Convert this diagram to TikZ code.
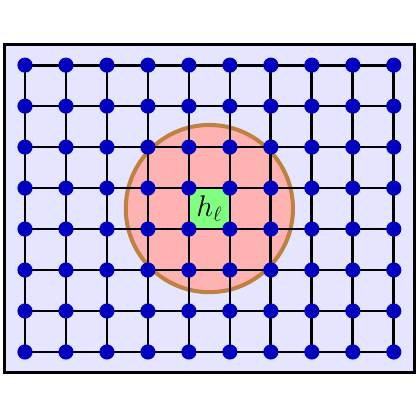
\documentclass[tikz,border=0pt]{standalone}
\usetikzlibrary{positioning}
\tikzset{
  site/.style={circle, fill=blue!75!black, inner sep=0pt, minimum size=0.37cm},
  bond/.style={line width=1.9pt},
  zone/.style={circle, draw=brown, fill=red!30, line width=2.8pt, minimum size=4.08cm, inner sep=0pt},
  cellbox/.style={rectangle, fill=green!50, minimum size=1cm, inner sep=0pt, font=\huge},
}
\begin{document}
\begin{tikzpicture}
  \useasboundingbox (-0.61,-1.66) rectangle (9.63,8.59);
  % lattice frame
  \node[draw, line width=2pt, fill=blue!10, minimum width=10cm, minimum height=8cm,
        inner sep=0pt] (frame) at (4.5,3.5) {};
  \node[zone] (patch) at (4.5,3.5) {};
  \node[cellbox] (h) at (4.5,3.5) {$h_\ell$};
  % site coordinates
  \foreach \i in {0,...,9}
    \foreach \j in {0,...,7}
      \coordinate (p-\i-\j) at (\i,\j);
  % bonds
  \foreach \j in {0,...,7}
    \draw[bond] (p-0-\j) -- (p-9-\j);
  \foreach \i in {0,...,9}
    \draw[bond] (p-\i-0) -- (p-\i-7);
  % sites
  \foreach \i in {0,...,9}
    \foreach \j in {0,...,7}
      \node[site] (s-\i-\j) at (p-\i-\j) {};
\end{tikzpicture}
\end{document}
